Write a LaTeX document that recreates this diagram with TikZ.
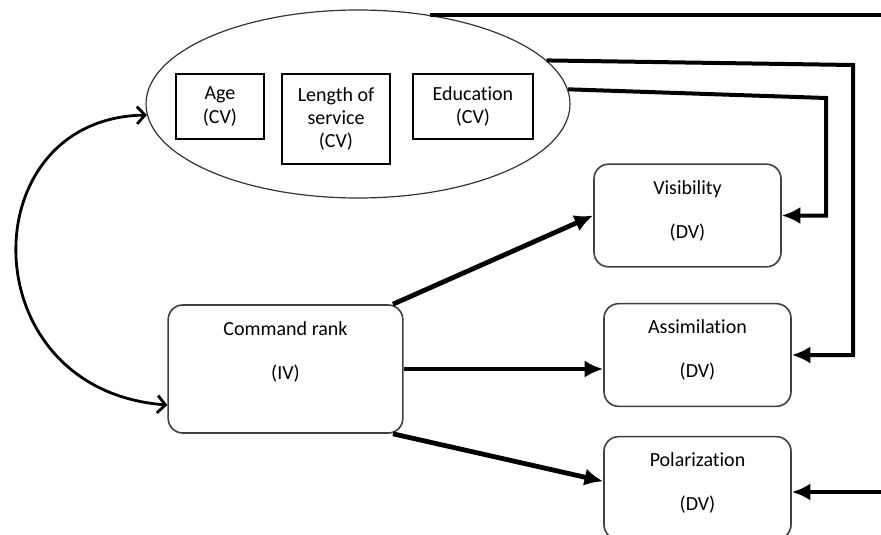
\documentclass[tikz,border=0pt]{standalone}
\usepackage{fontspec}
\setmainfont{Carlito}[Ligatures=NoCommon]
\usetikzlibrary{positioning,shapes.geometric,arrows.meta,calc}

\begin{document}
\begin{tikzpicture}[x=0.75pt,y=-0.75pt,
    font=\fontsize{15}{17.5}\selectfont,
    cv/.style={draw,line width=1.3pt,align=center,inner sep=0pt},
    dv/.style={draw=black!75,line width=1.2pt,rounded corners=11pt,align=center,
      minimum width=140.25pt,minimum height=77pt},
    link/.style={line width=3pt,-{Latex[length=14pt,width=13pt]}},
    effect/.style={line width=3.6pt,-{Latex[length=14pt,width=13pt]}},
    both/.style={line width=2.1pt,{Straight Barb[length=6pt,width=13pt]}-{Straight Barb[length=6pt,width=13pt]}}]
    \useasboundingbox (0,0) rectangle (881,535);

    % control variables
    \node[ellipse,draw=black!80,line width=0.9pt,inner sep=0pt,
      minimum width=318pt,minimum height=141pt] (ctrl) at (358,104) {};
    \node[cv,minimum width=66pt,minimum height=48.75pt] (age) at (220,106.5) {Age\\(CV)};
    \node[cv,minimum width=81pt,minimum height=67.5pt]  (los) at (336,119)   {Length of\\service\\(CV)};
    \node[cv,minimum width=90pt,minimum height=48.75pt] (edu) at (473,106.5) {Education\\(CV)};

    % independent and dependent variables
    \node[dv,minimum width=176pt,minimum height=96pt] (cmd) at (285.5,369) {Command rank\\[15.5pt](IV)\\[9.5pt]\mbox{}};
    \node[dv] (vis) at (687.5,215.5) {Visibility\\[15.5pt](DV)\\[-8pt]\mbox{}};
    \node[dv] (asm) at (697.5,355)   {Assimilation\\[15.5pt](DV)\\[-8pt]\mbox{}};
    \node[dv] (pol) at (697.5,488)   {Polarization\\[15.5pt](DV)\\[-8pt]\mbox{}};

    \coordinate (edge)  at (881,0);
    \coordinate (kneeA) at (853,65);
    \coordinate (kneeB) at (826,98);

    \draw[both] (ctrl.183) .. controls (-30,118) and (-30,390) .. ([yshift=-27pt]cmd.west);

    \draw[effect] ([xshift=-8pt]cmd.north east) -- (vis.west);
    \draw[effect] (cmd.east) -- (cmd.east -| asm.west);
    \draw[effect] ([xshift=-8pt]cmd.south east) -- ([yshift=5pt]pol.west);

    \draw[line width=3pt] (ctrl.51) -- (ctrl.51 -| edge); % runs off the page
    \draw[link] (ctrl.13) -- (kneeA) |- (asm.east);
    \draw[link] (ctrl.4) -- (kneeB) |- (vis.east);
    \draw[link] ([yshift=-3pt]pol.east -| edge) -- ([yshift=-3pt]pol.east);
  \end{tikzpicture}
\end{document}
